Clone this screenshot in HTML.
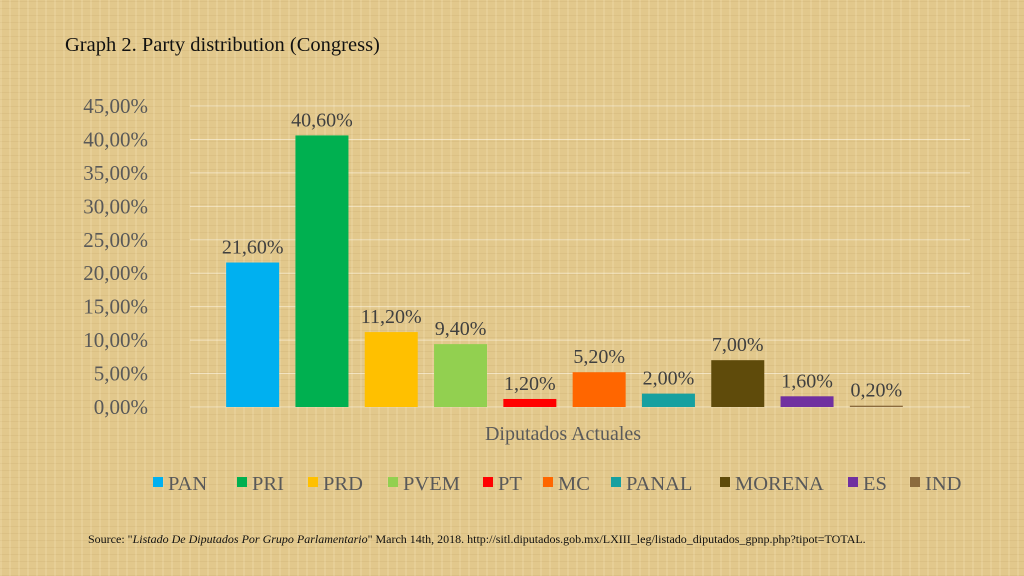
<!DOCTYPE html>
<html><head><meta charset="utf-8"><style>
body{margin:0;width:1024px;height:576px;overflow:hidden;font-family:"Liberation Serif",serif;}
#bg{position:absolute;left:0;top:0;width:1024px;height:576px;background:#e2c88c;
background-image:repeating-linear-gradient(90deg,rgba(255,240,200,.18) 0 2px,transparent 2px 9px),repeating-linear-gradient(0deg,rgba(160,120,60,.10) 0 1px,transparent 1px 7px);}
svg{position:absolute;left:0;top:0}
</style></head><body>
<div id="bg"></div>
<svg width="1024" height="576" id="chart">
<text x="65" y="51" font-size="20.5" fill="#111">Graph 2. Party distribution (Congress)</text>
<text x="563" y="440" font-size="20" fill="#5a5a5a" text-anchor="middle">Diputados Actuales</text>
<text x="88" y="543" font-size="12" fill="#111">Source: "<tspan font-style="italic">Listado De Diputados Por Grupo Parlamentario</tspan>" March 14th, 2018. http://sitl.diputados.gob.mx/LXIII_leg/listado_diputados_gpnp.php?tipot=TOTAL.</text>
<g id="grid"></g><g id="bars"></g><g id="legend"></g>
</svg>
<script>
const categories=["PAN","PRI","PRD","PVEM","PT","MC","PANAL","MORENA","ES","IND"];
const values=[21.6,40.6,11.2,9.4,1.2,5.2,2.0,7.0,1.6,0.2];
const valueLabels=["21,60%","40,60%","11,20%","9,40%","1,20%","5,20%","2,00%","7,00%","1,60%","0,20%"];
const ticks=[0,5,10,15,20,25,30,35,40,45];
const tickLabels=["0,00%","5,00%","10,00%","15,00%","20,00%","25,00%","30,00%","35,00%","40,00%","45,00%"];
const colors=["#00b0f0","#00b050","#ffc000","#92d050","#ff0000","#ff6600","#17a0a0","#5f4b0b","#7030a0","#8b6b3e"];
const legendX=[153,237,308,388,483,543,611,720,848,910];
const NS="http://www.w3.org/2000/svg";
const y=v=>407-v*(301/45);
const bandStart=218,band=69.3,bw=53;
const x=i=>bandStart+i*band;
function mk(t,a,p){const e=document.createElementNS(NS,t);for(const k in a)e.setAttribute(k,a[k]);p.appendChild(e);return e;}
const grid=document.getElementById('grid'),bars=document.getElementById('bars'),leg=document.getElementById('legend');
ticks.forEach((t,i)=>{
 const l=mk('line',{x1:190,x2:970,y1:y(t),y2:y(t),stroke:'rgba(255,250,235,0.55)','stroke-width':1},grid);
 
 
 const tx=mk('text',{x:148,y:y(t)+7,'font-size':21,fill:'#595959','text-anchor':'end'},grid);
 tx.textContent=tickLabels[i];
 
 
});
values.forEach((v,i)=>{
 const cx=x(i)+band/2;
 const r=mk('rect',{x:cx-bw/2,y:y(v),width:bw,height:Math.max(407-y(v),1),fill:colors[i]},bars);
 
 
 const t=mk('text',{x:cx,y:y(v)-9,'font-size':20,fill:'#404040','text-anchor':'middle'},bars);
 t.textContent=valueLabels[i];
 
 
 const g=mk('g',{},leg);
 
 
 mk('rect',{x:legendX[i],y:477,width:10,height:10,fill:colors[i]},g);
 const lt=mk('text',{x:legendX[i]+15,y:490,'font-size':20.5,fill:'#595959'},g);
 lt.textContent=categories[i];
});
</script>
</body></html>
